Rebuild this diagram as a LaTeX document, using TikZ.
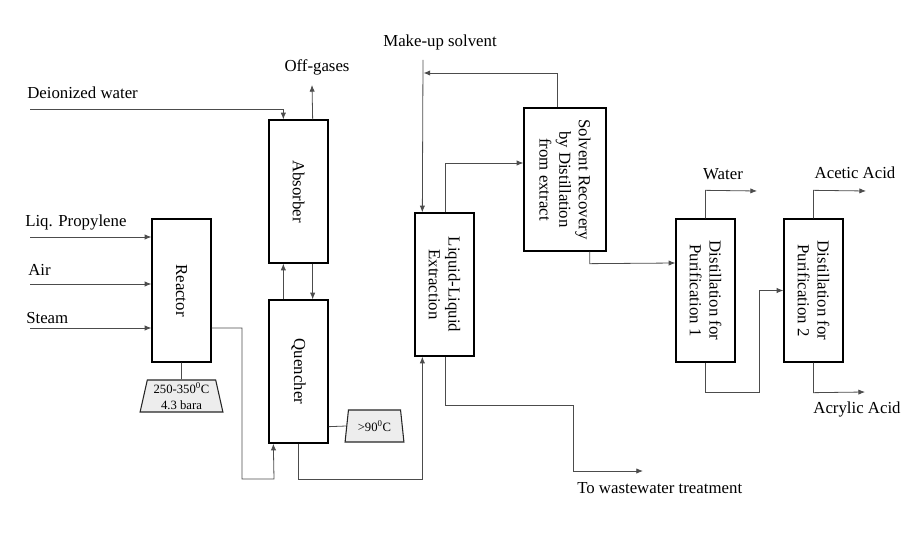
\documentclass[tikz,border=0pt]{standalone}
\usepackage{fontspec}
\setmainfont{Liberation Serif}
\usetikzlibrary{shapes.geometric,arrows.meta}
\begin{document}
\begin{tikzpicture}[x=0.75pt,y=-0.75pt,
 box/.style={draw=black,line width=1pt,inner sep=0pt,fill=white},
 ubox/.style={box,minimum width=44.25pt,minimum height=107.25pt},
 txt/.style={font=\fontsize{12.6}{14.8}\selectfont,inner sep=0pt},
 vtxt/.style={txt,rotate=-90,align=center},
 flow/.style={draw=black!70,line width=0.6pt},
 arr/.style={flow,-{Latex[length=5pt,width=4pt]}},
 trap/.style={draw=black!85,line width=0.8pt,fill=black!7,trapezium,trapezium stretches=true,inner sep=0pt,font=\fontsize{9.5}{11.5}\selectfont,align=center,minimum height=24pt}]
\useasboundingbox (0,0) rectangle (920,538);

% boxes
\node[ubox] (reactor) at (181.5,290.5) {};
\node[vtxt] (reactorT) at (reactor.center) {Reactor};
\node[ubox] (absorber) at (298.5,191.5) {};
\node[vtxt] (absorberT) at (absorber.center) {Absorber};
\node[ubox] (quencher) at (298.5,371.5) {};
\node[vtxt] (quencherT) at (quencher.center) {Quencher};
\node[ubox] (lle) at (444.5,284.5) {};
\node[vtxt] (lleT) at (lle.center) {Liquid-Liquid\\Extraction};
\node[box,minimum width=61.5pt,minimum height=107.25pt] (sr) at (565,179.5) {};
\node[vtxt] (srT) at (sr.center) {Solvent Recovery\\by Distillation\\from extract};
\node[ubox] (d1) at (705.5,290.5) {};
\node[vtxt] (d1T) at (d1.center) {Distillation for\\Purification 1};
\node[ubox] (d2) at (813.5,290.5) {};
\node[vtxt] (d2T) at (d2.center) {Distillation for\\Purification 2};

% condition trapezia
\node[trap,trapezium angle=77.5,minimum width=62.25pt] (rtrap) at (181.5,396) {250-350\textsuperscript{0}C\\4.3 bara};
\node[trap,trapezium angle=79,minimum width=44.25pt] (qtrap) at (374.5,426) {>90\textsuperscript{0}C};

% labels
\node[txt,anchor=west] (lpL) at (25,222) {Liq. Propylene};
\node[txt,anchor=west] (airL) at (28,270) {Air};
\node[txt,anchor=west] (stL) at (26,318) {Steam};
\node[txt,anchor=west] (diL) at (27,93) {Deionized water};
\node[txt] (ogL) at (317,67) {Off-gases};
\node[txt] (muL) at (440,42) {Make-up solvent};
\node[txt] (waL) at (723,174) {Water};
\node[txt] (aaL) at (855,173) {Acetic Acid};
\node[txt] (acL) at (857,409) {Acrylic Acid};
\node[txt,anchor=west] (wwL) at (577,488) {To wastewater treatment};

% free ends
\coordinate (lpin) at (30,237);
\coordinate (airin) at (30,284);
\coordinate (stin) at (30,328);
\coordinate (diin) at (30,109);
\coordinate (ogend) at (312,85);
\coordinate (muin) at (423,60);
\coordinate (rcend) at (423.5,73);
\coordinate (wwend) at (643,471);
\coordinate (waend) at (757,191);
\coordinate (aaend) at (866,191);
\coordinate (acend) at (865,392);

% feeds
\draw[arr] (lpin) -- (lpin -| reactor.west);
\draw[arr] (airin) -- (airin -| reactor.west);
\draw[arr] (stin) -- (stin -| reactor.west);
\draw[flow] (reactor.south) -- (rtrap.north);
\draw[arr] (stin -| reactor.east) -- (242,328) -- (242,479) -- (274,479) -- ([xshift=3.75pt]quencher.south west);

% absorber / quencher
\draw[arr] ([xshift=11.25pt]quencher.north west) -- ([xshift=11.25pt]absorber.south west);
\draw[arr] ([xshift=-12pt]absorber.south east) -- ([xshift=-12pt]quencher.north east);
\draw[arr] (diin) -| ([xshift=11.25pt]absorber.north west);
\draw[arr] ([xshift=-12pt]absorber.north east) -- (ogend);
\draw[flow] ([yshift=12.75pt]quencher.south east) -- (qtrap.west);
\draw[arr] (quencher.south) -- ++(0,36) -| ([xshift=6pt]lle.south west);

% extraction / solvent recovery
\draw[arr] (muin) -- ([xshift=6pt]lle.north west);
\draw[arr] ([xshift=-36.75pt]sr.north east) |- (rcend);
\draw[arr] ([xshift=-21.75pt]lle.north east) |- ([yshift=12.375pt]sr.west);
\draw[arr] ([xshift=-21.75pt]lle.south east) -- ++(0,49) -- ++(128,0) |- (wwend);
\draw[arr] ([xshift=-12.75pt]sr.south east) -- ++(0,12) -- ([yshift=20.625pt]d1.west);

% purification
\draw[arr] (d1.north) -- ++(0,-28) -- (waend);
\draw[arr] (d2.north) -- ++(0,-28) -- (aaend);
\draw[arr] (d1.south) -- ++(0,30) -- ++(54,0) |- (d2.west);
\draw[arr] (d2.south) -- ++(0,30) -- (acend);
\end{tikzpicture}
\end{document}
